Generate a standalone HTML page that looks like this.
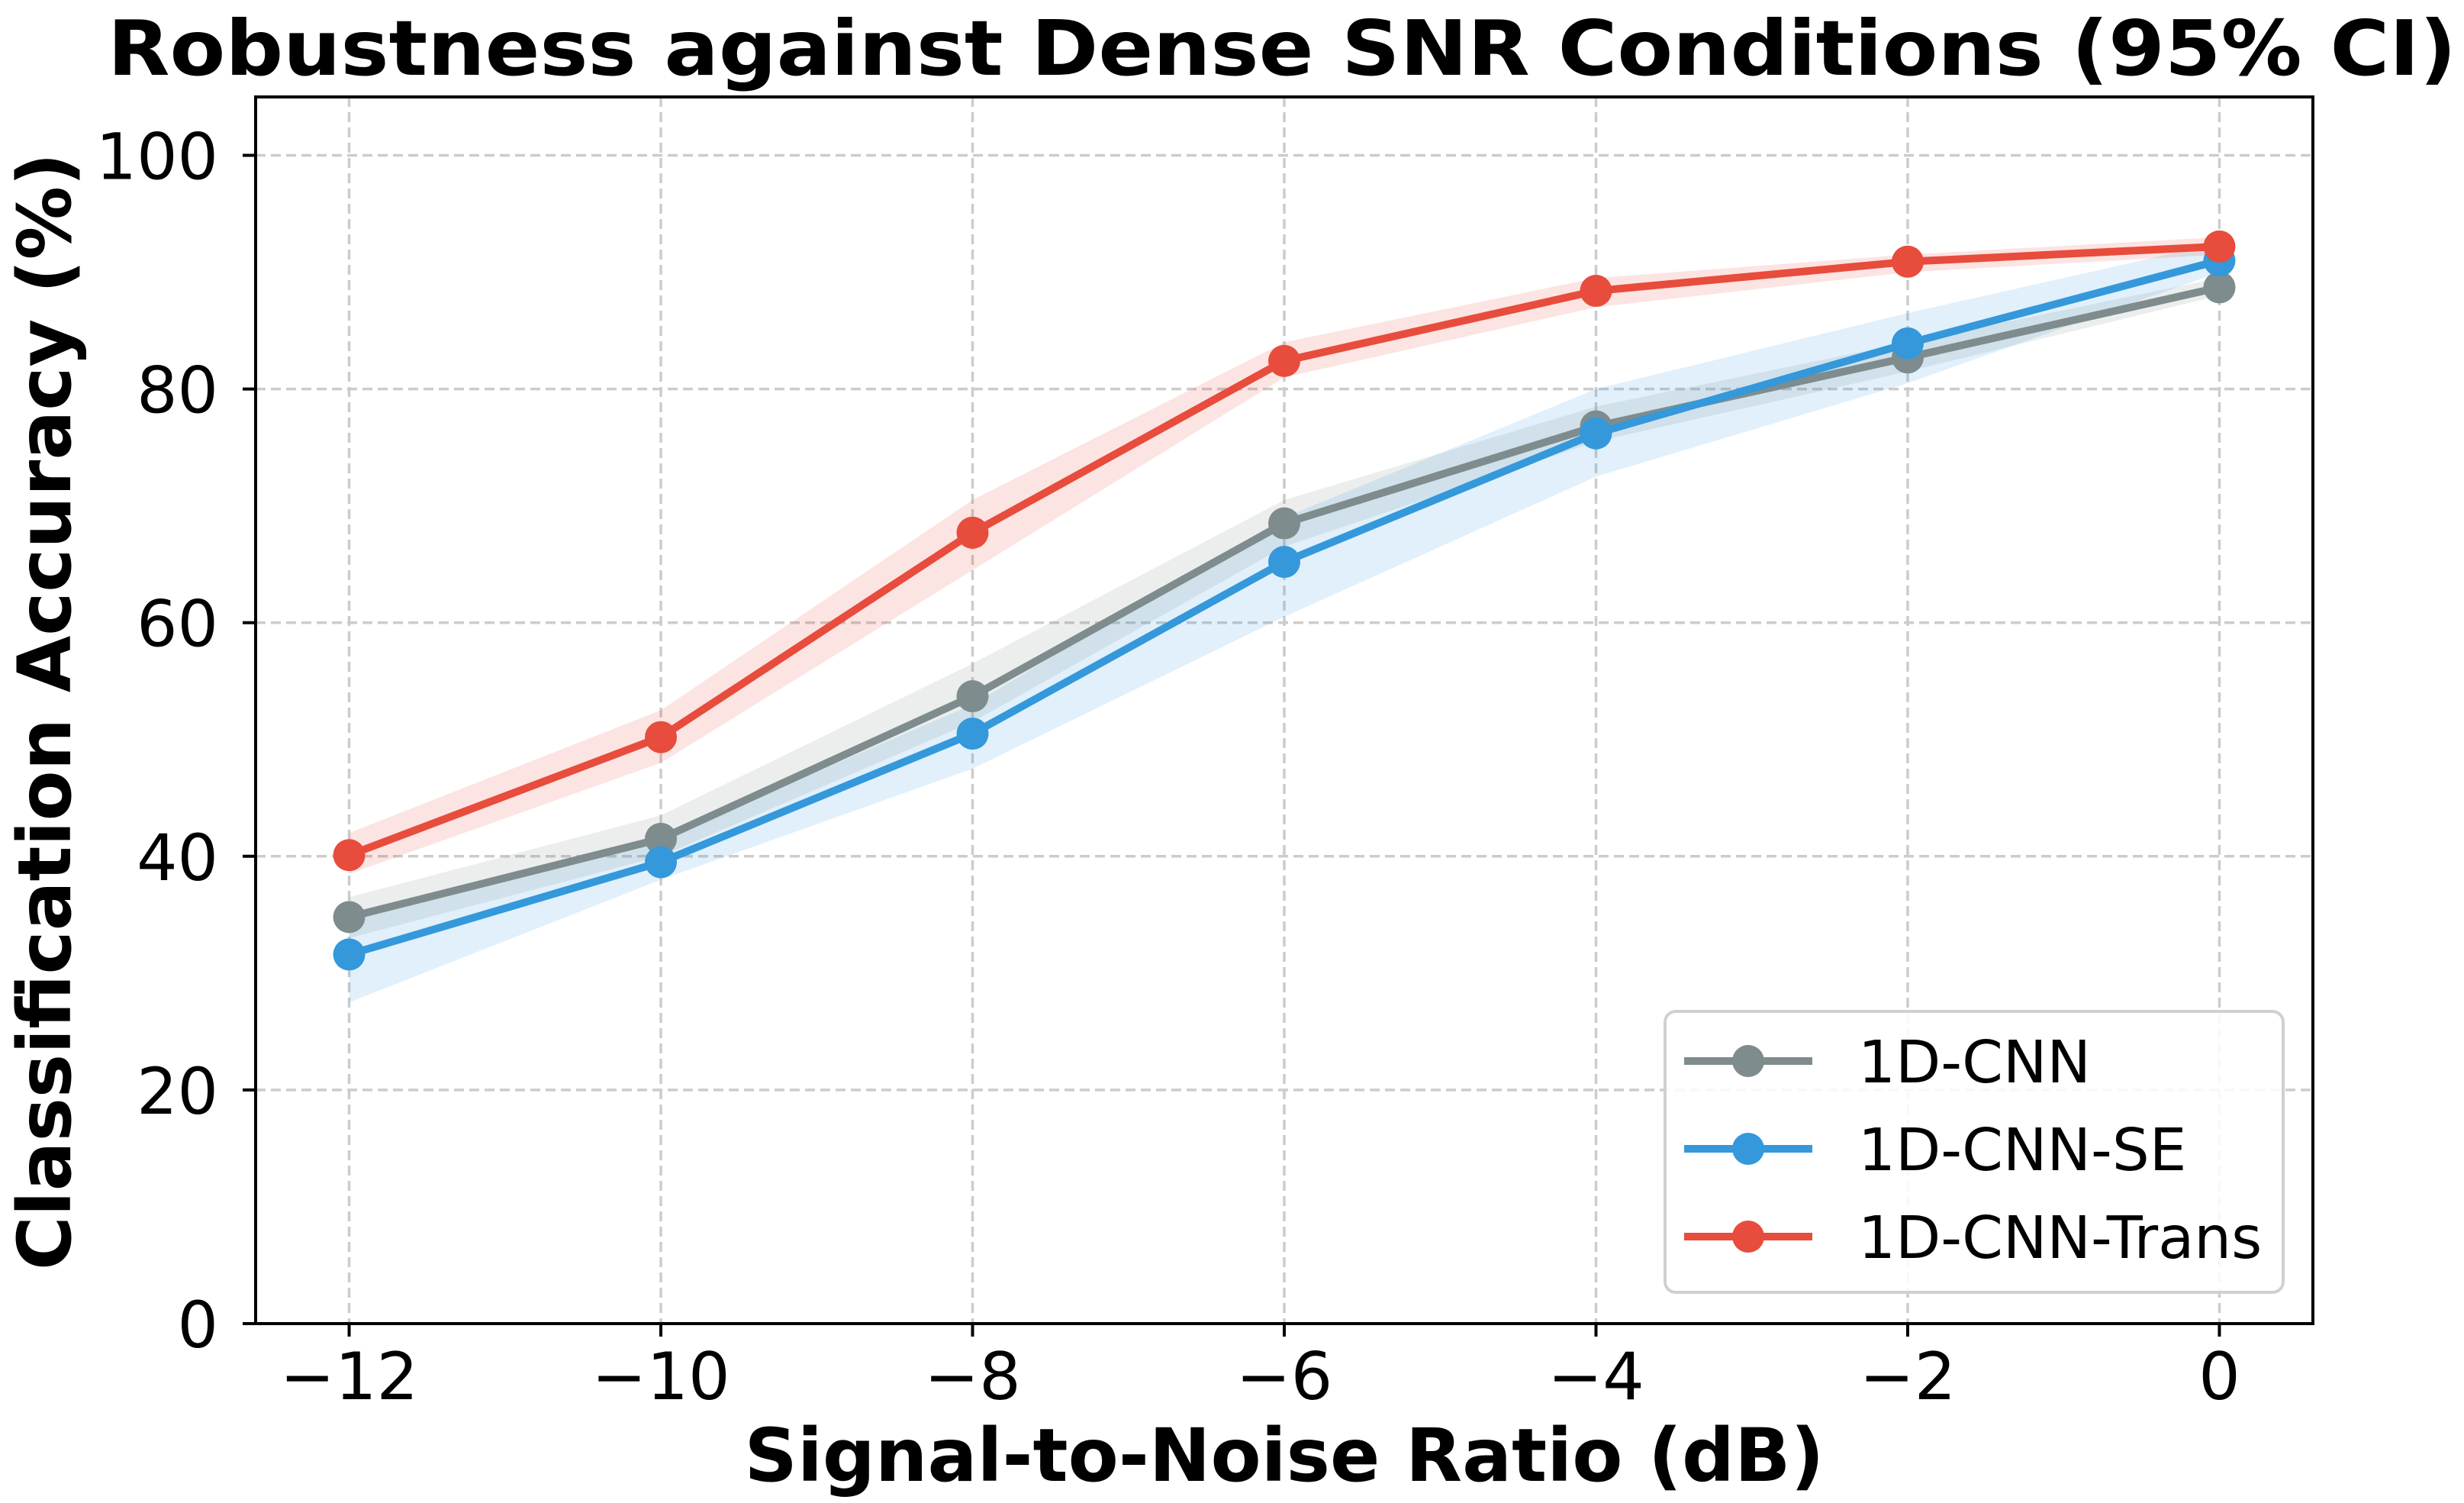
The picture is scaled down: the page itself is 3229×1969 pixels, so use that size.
<!DOCTYPE html>
<html><head><meta charset="utf-8"><style>
html,body{margin:0;padding:0;background:#fff;}
svg{display:block;font-family:"DejaVu Sans","Liberation Sans",sans-serif;}
</style></head><body>
<svg id="chart" width="3229" height="1969" viewBox="0 0 3229 1969" xmlns="http://www.w3.org/2000/svg">
<rect width="3229" height="1969" fill="#fff"/>
<g id="grid"></g>
<g id="bands"></g>
<g id="series"></g>
<rect x="335" y="127" width="2696" height="1607" fill="none" stroke="#000" stroke-width="4"/>
<g id="ticks"></g>
<text x="1680" y="98" text-anchor="middle" font-size="100" font-weight="bold" textLength="3078" lengthAdjust="spacingAndGlyphs">Robustness against Dense SNR Conditions (95% CI)</text>
<text x="1683" y="1940" text-anchor="middle" font-size="96" font-weight="bold" textLength="1415" lengthAdjust="spacingAndGlyphs">Signal-to-Noise Ratio (dB)</text>
<text transform="translate(92,932) rotate(-90)" text-anchor="middle" font-size="96" font-weight="bold" textLength="1464" lengthAdjust="spacingAndGlyphs">Classification Accuracy (%)</text>
<g id="legend">
<rect x="2182" y="1325" width="810" height="368" rx="14" fill="#fff" fill-opacity="0.85" stroke="#d0d0d0" stroke-width="4"/>
</g>
</svg>
<script>
const categories = [-12, -10, -8, -6, -4, -2, 0];
const xTicks = [-12, -10, -8, -6, -4, -2, 0];
const yTicks = [0, 20, 40, 60, 80, 100];
const seriesNames = ["1D-CNN", "1D-CNN-SE", "1D-CNN-Trans"];
const cnnValues = [34.8, 41.5, 53.7, 68.5, 76.8, 82.7, 88.7];
const cnnLow = [33.0, 40.0, 51.5, 66.5, 75.5, 81.5, 88.0];
const cnnHigh = [36.5, 43.5, 56.5, 70.5, 78.5, 84.0, 89.5];
const seValues = [31.6, 39.5, 50.5, 65.2, 76.2, 83.9, 91.0];
const seLow = [27.5, 38.0, 47.5, 60.5, 72.5, 80.5, 90.0];
const seHigh = [35.0, 41.5, 53.0, 69.0, 80.0, 86.5, 92.5];
const transValues = [40.1, 50.2, 67.7, 82.4, 88.4, 90.9, 92.2];
const transLow = [38.5, 48.0, 64.5, 81.0, 87.0, 90.0, 91.5];
const transHigh = [42.0, 52.5, 70.5, 84.0, 89.5, 91.5, 93.0];

const NS = "http://www.w3.org/2000/svg";
const L = 335, R = 3031, T = 127, B = 1734;
const xMin = -12.6, xMax = 0.6, yMin = 0, yMax = 105;
function xs(v){ return L + (v - xMin) / (xMax - xMin) * (R - L); }
function ys(v){ return B - (v - yMin) / (yMax - yMin) * (B - T); }
function mk(tag, attrs, parent){ const e = document.createElementNS(NS, tag); for (const k in attrs) e.setAttribute(k, attrs[k]); parent.appendChild(e); return e; }

const grid = document.getElementById('grid');
const ticks = document.getElementById('ticks');
xTicks.forEach(t => {
  const g = mk('line', {x1: xs(t), x2: xs(t), y1: T, y2: B, stroke: '#cccccc', 'stroke-width': 3.5, 'stroke-dasharray': '13 7'}, grid);
  
  
  const tk = mk('line', {x1: xs(t), x2: xs(t), y1: B, y2: B + 17, stroke: '#000', 'stroke-width': 4}, ticks);
  
  
  const lb = mk('text', {x: xs(t), y: 1833, 'text-anchor': 'middle', 'font-size': 86}, ticks);
  lb.textContent = t < 0 ? '\u2212' + Math.abs(t) : String(t);
  
  
});
yTicks.forEach(t => {
  const g = mk('line', {x1: L, x2: R, y1: ys(t), y2: ys(t), stroke: '#cccccc', 'stroke-width': 3.5, 'stroke-dasharray': '13 7'}, grid);
  
  
  const tk = mk('line', {x1: L - 17, x2: L, y1: ys(t), y2: ys(t), stroke: '#000', 'stroke-width': 4}, ticks);
  
  
  const lb = mk('text', {x: 286, y: ys(t) + 31, 'text-anchor': 'end', 'font-size': 84}, ticks);
  lb.textContent = String(t);
  
  
});

const defs = [
  {name: 'cnn', color: '#7f8c8d', vals: cnnValues, lo: cnnLow, hi: cnnHigh},
  {name: 'se', color: '#3498db', vals: seValues, lo: seLow, hi: seHigh},
  {name: 'trans', color: '#e74c3c', vals: transValues, lo: transLow, hi: transHigh}
];
const bands = document.getElementById('bands');
const series = document.getElementById('series');
defs.forEach(s => {
  let d = '';
  categories.forEach((c, i) => { d += (i ? 'L' : 'M') + xs(c) + ',' + ys(s.hi[i]); });
  for (let i = categories.length - 1; i >= 0; i--) d += 'L' + xs(categories[i]) + ',' + ys(s.lo[i]);
  d += 'Z';
  const b = mk('path', {d: d, fill: s.color, 'fill-opacity': 0.15}, bands);
  
  
});
defs.forEach(s => {
  const pts = categories.map((c, i) => xs(c) + ',' + ys(s.vals[i])).join(' ');
  const pl = mk('polyline', {points: pts, fill: 'none', stroke: s.color, 'stroke-width': 10, 'stroke-linejoin': 'round'}, series);
  
  
  categories.forEach((c, i) => {
    const m = mk('circle', {cx: xs(c), cy: ys(s.vals[i]), r: 21, fill: s.color}, series);
    
    
  });
});

const legend = document.getElementById('legend');
const ly = [1390, 1505, 1620];
defs.forEach((s, i) => {
  const ln = mk('line', {x1: 2207, x2: 2375, y1: ly[i], y2: ly[i], stroke: s.color, 'stroke-width': 10}, legend);
  
  
  const c = mk('circle', {cx: 2291, cy: ly[i], r: 21, fill: s.color}, legend);
  
  
  const t = mk('text', {x: 2435, y: ly[i] + 28, 'font-size': 77}, legend);
  t.textContent = seriesNames[i];
  
  
});
</script>
</body></html>
